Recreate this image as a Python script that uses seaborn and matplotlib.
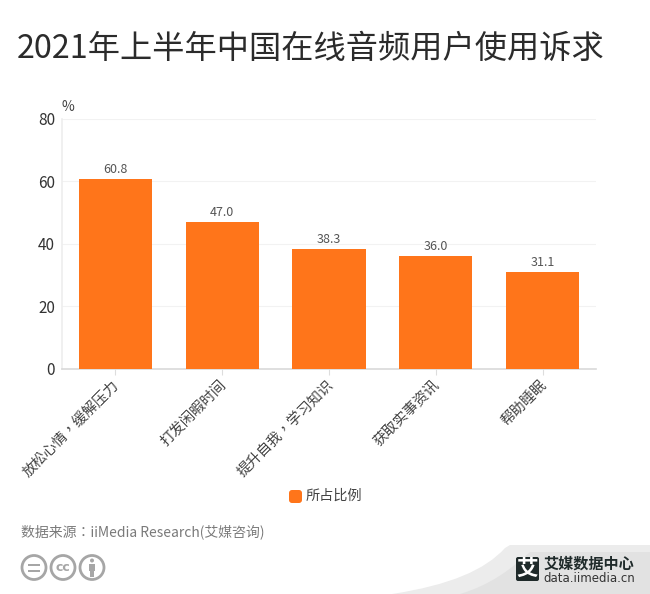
import matplotlib
matplotlib.use("Agg")
import matplotlib.pyplot as plt
from matplotlib.patches import Circle, PathPatch, FancyBboxPatch, Rectangle
from matplotlib.path import Path
from matplotlib.transforms import ScaledTranslation
import seaborn as sns
import pandas as pd

title = "2021年上半年中国在线音频用户使用诉求"
categories = ["放松心情，缓解压力", "打发闲暇时间", "提升自我，学习知识", "获取实事资讯", "帮助睡眠"]
values = [60.8, 47.0, 38.3, 36.0, 31.1]
yticks = [0, 20, 40, 60, 80]
legend_label = "所占比例"
source = "数据来源：iiMedia Research(艾媒咨询)"

sns.set_theme(style="white")
plt.rcParams['font.family'] = ['Noto Sans CJK SC', 'DejaVu Sans']
TC = ['Noto Sans CJK TC', 'DejaVu Sans']
W, H = 650, 594
fig = plt.figure(figsize=(W/100, H/100), dpi=100, facecolor="white")
ax = fig.add_axes([62/W, 1-368.5/H, (596-62)/W, 249.5/H])
df = pd.DataFrame({"cat": categories, "val": values})
ORANGE = "#FF751A"
sns.barplot(data=df, x="cat", y="val", color=ORANGE, saturation=1, width=0.685,
            linewidth=0, edgecolor="none", ax=ax, zorder=3)
ax.set_xlim(-0.5, 4.5); ax.set_ylim(0, 80)
ax.set_xlabel(""); ax.set_ylabel("")
ax.set_yticks(yticks)
ax.tick_params(axis="y", length=0, labelsize=11, labelcolor="#333333", pad=5)
ax.tick_params(axis="x", length=4, width=0.8, color="#dddddd", labelsize=10.4, labelcolor="#444444", pad=3, bottom=True)
ax.set_xticks(range(5))
ax.set_xticklabels(categories, rotation=45, ha="right", rotation_mode="anchor", family=TC)
shift = ScaledTranslation(-3/100, 0, fig.dpi_scale_trans)
for lab in ax.get_xticklabels():
    lab.set_transform(lab.get_transform() + shift)
ax.grid(axis="y", color="#f2f2f2", lw=0.8, zorder=0)
ax.grid(axis="x", visible=False)
for s in ["top", "right"]:
    ax.spines[s].set_visible(False)
ax.spines["left"].set_color("#eeeeee"); ax.spines["left"].set_linewidth(1.2)
ax.spines["bottom"].set_color("#d9d9d9"); ax.spines["bottom"].set_linewidth(1.2)
for i, v in enumerate(values):
    ax.annotate(f"{v:.1f}", (i, v), xytext=(0, 2), textcoords="offset points",
                ha="center", va="bottom", fontsize=9, color="#555555")

def T(x, y, s, **k):
    fig.text(x/W, 1-y/H, s, **k)

T(311, 49, title, ha="center", va="center", fontsize=23.2, color="#2b2b2b")
T(62, 107, "%", ha="left", va="center", fontsize=10, color="#444444")

overlay = fig.add_axes([0, 0, 1, 1], facecolor="none", zorder=5)
overlay.set_xlim(0, W); overlay.set_ylim(H, 0); overlay.axis("off")
overlay.add_patch(FancyBboxPatch((289, 490), 13, 13, boxstyle="round,pad=0,rounding_size=3", fc=ORANGE, ec="none"))
T(306, 495.5, legend_label, ha="left", va="center", fontsize=10.2, color="#444444")
T(21, 532, source, ha="left", va="center", fontsize=10, color="#7a7a7a", family=TC)

# licence icons
GR = "#a6a6a6"
for cx in (34, 63, 92):
    overlay.add_patch(Circle((cx, 567.5), 12, fc="white", ec=GR, lw=2))
overlay.add_patch(Rectangle((28, 563.5), 12, 2.4, fc=GR, ec="none"))
overlay.add_patch(Rectangle((28, 569.5), 12, 2.4, fc=GR, ec="none"))
overlay.text(63, 567.5, "cc", ha="center", va="center", fontsize=9, color=GR, fontweight="bold", family="DejaVu Sans")
overlay.add_patch(Circle((92, 560.5), 2, fc=GR, ec="none"))
overlay.add_patch(Rectangle((89, 563.5), 6, 7, fc=GR, ec="none"))
overlay.add_patch(Rectangle((90.3, 570), 3.4, 6.5, fc=GR, ec="none"))

# brand corner
C = Path.CURVE4; L = Path.LINETO; M = Path.MOVETO
outer = Path([(392, 594), (450, 585), (485, 570), (505, 548), (510, 545), (650, 545), (650, 594), (392, 594)],
             [M, C, C, C, L, L, L, L])
inner = Path([(460, 594), (490, 585), (510, 570), (530, 552), (650, 552), (650, 594), (460, 594)],
             [M, C, C, C, L, L, L])
overlay.add_patch(PathPatch(outer, fc="#ececec", ec="none"))
overlay.add_patch(PathPatch(inner, fc="#e2e2e2", ec="none"))
overlay.add_patch(FancyBboxPatch((516, 557), 23, 24, boxstyle="round,pad=0,rounding_size=2", fc="#1f2a2a", ec="none"))
overlay.text(527.5, 568.5, "艾", ha="center", va="center", fontsize=15.5, color="white", fontweight="bold")
overlay.text(543.5, 563.5, "艾媒数据中心", ha="left", va="center", fontsize=10.9, color="#1f2a2a", fontweight="bold")
overlay.text(543.5, 578, "data.iimedia.cn", ha="left", va="center", fontsize=8.5, color="#333333", family="DejaVu Sans")

fig.savefig("out.png", dpi=100, facecolor="white")
